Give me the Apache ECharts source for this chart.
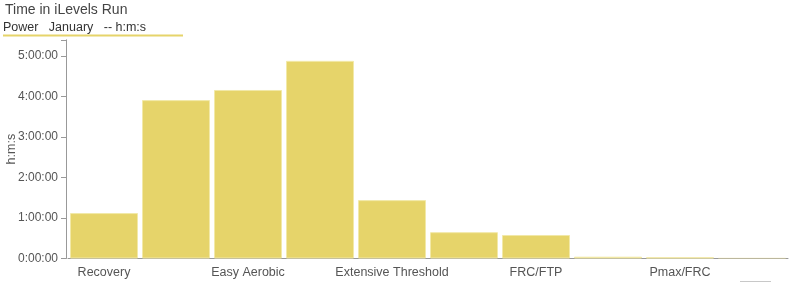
<!DOCTYPE html>
<html><head><meta charset="utf-8">
<script src="https://cdn.jsdelivr.net/npm/echarts@6/dist/echarts.min.js"></script>
<style>html,body{margin:0;padding:0;background:#fff}#c{width:800px;height:284px}</style>
</head><body><div id="c"></div>
<script>
const categories = ['Recovery','Endurance','Easy Aerobic','Tempo','Extensive Threshold','Intensive Threshold','FRC/FTP','FRC','Pmax/FRC','Pmax'];
// seconds in each level
const seconds = [4040, 14080, 14980, 17570, 5190, 2340, 2090, 160, 110, 50];
const yTicks = [0, 3600, 7200, 10800, 14400, 18000];
const FONT = '"Liberation Sans", Arial, sans-serif';
function hms(v){v=Math.round(v);const h=Math.floor(v/3600),m=Math.floor(v%3600/60),s=v%60;return h+':'+String(m).padStart(2,'0')+':'+String(s).padStart(2,'0');}
const chart = echarts.init(document.getElementById('c'), null, {renderer:'canvas'});
chart.setOption({
  animation:false,
  textStyle:{fontFamily:FONT},
  title:{text:'Time in iLevels Run', left:0, top:-2, textStyle:{fontFamily:FONT,fontSize:14,fontWeight:'normal',color:'#444'}},
  graphic:[
    {type:'text', left:3, top:21, style:{text:'Power   January   -- h:m:s', font:'12.5px '+FONT, fill:'#333'}},
    {type:'line', shape:{x1:3,y1:35.5,x2:183,y2:35.5}, style:{stroke:'#e6d46a', lineWidth:2}},
    {type:'line', shape:{x1:740,y1:281.5,x2:771,y2:281.5}, style:{stroke:'#c8c8c8', lineWidth:1}}
  ],
  grid:{left:68, right:12, top:39.8, bottom:25.5, containLabel:false, outerBoundsMode:'none'},
  xAxis:{type:'category', data:categories, offset:2,
    axisLine:{lineStyle:{color:'#999'}},
    axisTick:{alignWithLabel:true, interval:1, length:4, lineStyle:{color:'#999'}},
    axisLabel:{interval:1, color:'#555', fontSize:12.5, fontFamily:FONT, margin:6}},
  yAxis:{type:'value', min:0, max:19440, interval:3600, offset:2,
    name:'h:m:s', nameLocation:'middle', nameGap:48, nameRotate:90, nameMoveOverlap:false,
    nameTextStyle:{color:'#555', fontSize:12.5, fontFamily:FONT},
    axisLine:{show:true, lineStyle:{color:'#999'}},
    axisTick:{show:true, length:5, lineStyle:{color:'#999'}},
    axisLabel:{color:'#555', fontSize:12, fontFamily:FONT, margin:8,
      formatter:v=> yTicks.includes(v)? hms(v):''},
    splitLine:{show:false}},
  series:[{type:'bar', barWidth:68,
    data:seconds.map((v,i)=> i===seconds.length-1 ? {value:v, itemStyle:{opacity:0.3}} : v),
    itemStyle:{color:'#e6d46a', borderColor:'#f2e9a8', borderWidth:1}}]
});
</script></body></html>
